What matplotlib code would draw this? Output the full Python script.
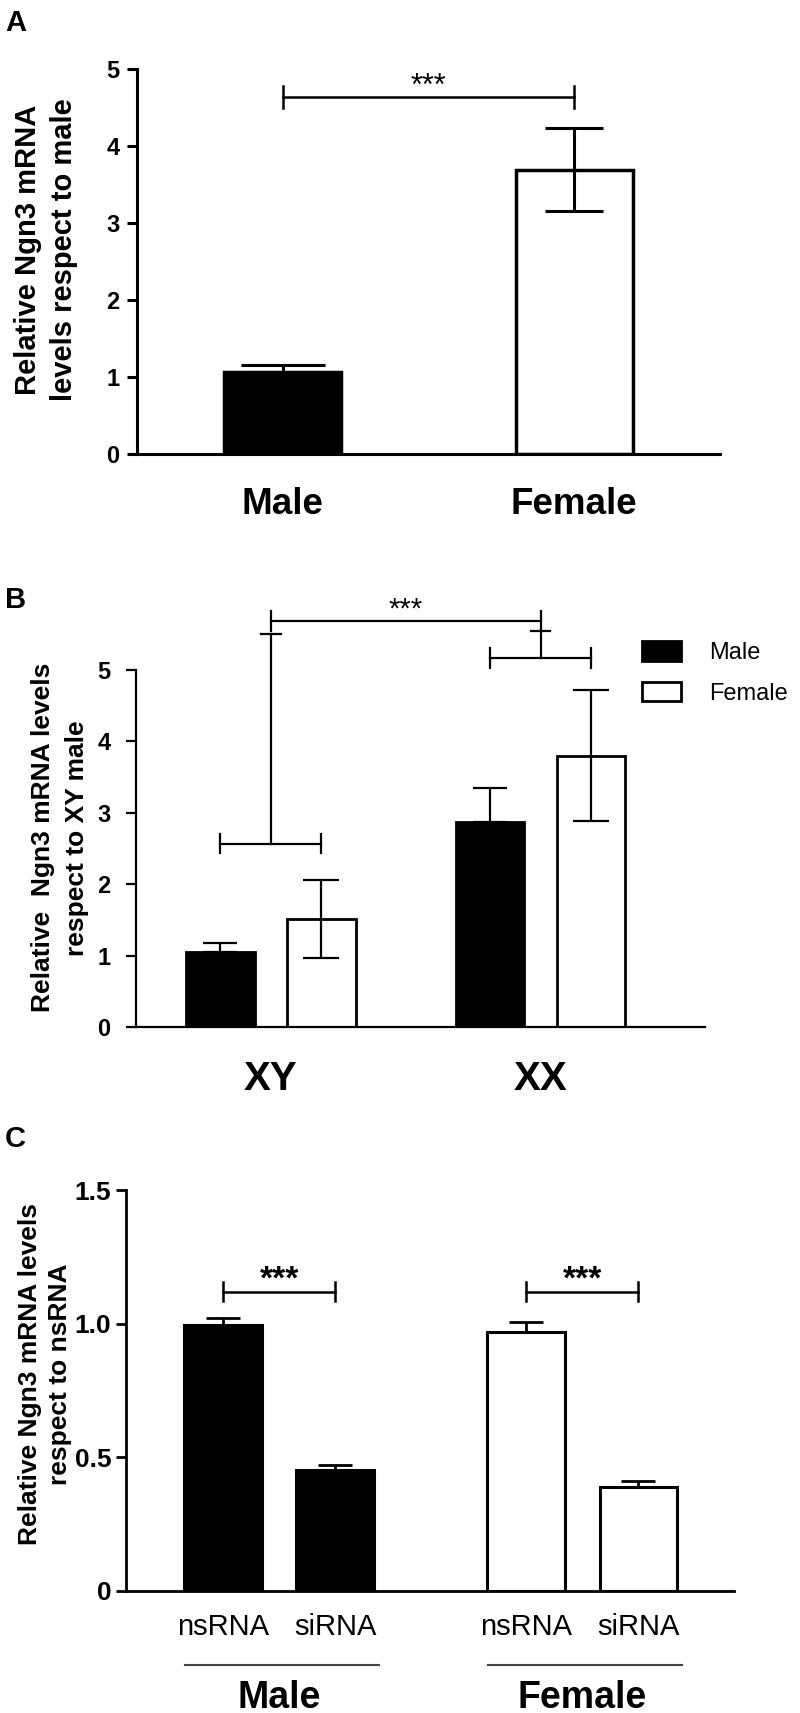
import matplotlib
matplotlib.use('Agg')
import matplotlib.pyplot as plt
from matplotlib.transforms import blended_transform_factory
import numpy as np

plt.rcParams['font.family'] = ['Liberation Sans', 'DejaVu Sans']

# panel A - Ngn3 by sex
a_groups = ['Male', 'Female']
a_means = [1.07, 3.69]
a_sem = [0.09, 0.54]
a_sig_y = 4.64

# panel B - four core genotypes
b_groups = ['XY', 'XX']
b_male = [1.05, 2.87]
b_male_sem = [0.13, 0.48]
b_female = [1.51, 3.80]
b_female_sem = [0.55, 0.92]
b_pair_y = [2.57, 5.17]
b_pair_top = [5.51, 5.54]
b_sig_y = 5.68

# panel C - siRNA knockdown
c_groups = ['Male', 'Female']
c_conditions = ['nsRNA', 'siRNA']
c_male = [0.995, 0.453]
c_male_sem = [0.025, 0.017]
c_female = [0.97, 0.39]
c_female_sem = [0.035, 0.02]
c_sig_y = [1.12, 1.12]

W, H = 800, 1713
fig = plt.figure(figsize=(W / 100, H / 100), dpi=100)


def px_axes(left, top, right, bottom):
    return fig.add_axes([left / W, 1 - bottom / H, (right - left) / W, (bottom - top) / H])


def style(ax, lw, ticks, ticklabels, tsize, pad):
    for s in ['top', 'right']:
        ax.spines[s].set_visible(False)
    for s in ['left', 'bottom']:
        ax.spines[s].set_linewidth(lw)
    ax.set_yticks(ticks, labels=ticklabels, fontsize=tsize, fontweight='bold')
    ax.tick_params(axis='y', direction='out', length=7.5, width=lw, pad=pad)
    ax.tick_params(axis='x', length=0)


def ylabel(ax, txt, x, y, size, spacing):
    ax.text(x, y, txt, transform=ax.transAxes, rotation=90, ha='center', va='center',
            multialignment='center', fontsize=size, fontweight='bold', linespacing=spacing)


def bracket(ax, x0, x1, y, h, lw):
    ax.plot([x0, x1], [y, y], color='black', lw=lw, clip_on=False)
    ax.plot([x0, x0], [y - h, y + h], color='black', lw=lw, clip_on=False)
    ax.plot([x1, x1], [y - h, y + h], color='black', lw=lw, clip_on=False)


# ---------------- A ----------------
axA = px_axes(137, 69, 720, 454)
xa = np.arange(len(a_groups))
axA.bar(xa, a_means, width=0.40, color=['black', 'white'], edgecolor='black', linewidth=2.5, zorder=2)
axA.errorbar(xa[0], a_means[0], yerr=[[0], [a_sem[0]]], fmt='none', ecolor='black',
             elinewidth=2.2, capsize=30, capthick=2.2, zorder=3)
axA.errorbar(xa[1], a_means[1], yerr=a_sem[1], fmt='none', ecolor='black',
             elinewidth=2.2, capsize=21, capthick=2.2, zorder=3)
axA.set_xlim(-0.5, 1.5)
axA.set_ylim(0, 5)
style(axA, 2.2, [0, 1, 2, 3, 4, 5], ['0', '1', '2', '3', '4', '5'], 17, 5)
axA.set_xticks(xa, labels=a_groups, fontsize=26.5, fontweight='bold')
axA.tick_params(axis='x', pad=24)
bracket(axA, xa[0], xa[1], a_sig_y, 0.14, 1.8)
axA.text(0.5 * (xa[0] + xa[1]), a_sig_y + 0.02, '***', ha='center', va='baseline', fontsize=22)
ylabel(axA, 'Relative Ngn3 mRNA\nlevels respect to male', -0.156, 0.53, 21, 1.35)

# ---------------- B ----------------
axB = px_axes(136, 670, 705, 1027)
xb = np.arange(len(b_groups))
off = 0.1875
bw = 0.255
axB.bar(xb - off, b_male, width=bw, color='black', edgecolor='black', linewidth=2, zorder=2, label='Male')
axB.bar(xb + off, b_female, width=bw, color='white', edgecolor='black', linewidth=2, zorder=2, label='Female')
axB.errorbar(xb - off, b_male, yerr=[np.zeros(2), b_male_sem], fmt='none', ecolor='black',
             elinewidth=1.6, capsize=12, capthick=1.6, zorder=3)
axB.errorbar(xb + off, b_female, yerr=b_female_sem, fmt='none', ecolor='black',
             elinewidth=1.6, capsize=13, capthick=1.6, zorder=3)
axB.set_xlim(-0.5, 1.61)
axB.set_ylim(0, 5)
style(axB, 1.6, [0, 1, 2, 3, 4, 5], ['0', '1', '2', '3', '4', '5'], 17, 11)
axB.set_xticks(xb, labels=b_groups, fontsize=29, fontweight='bold')
axB.tick_params(axis='x', pad=24)
for i in range(len(b_groups)):
    bracket(axB, xb[i] - off, xb[i] + off, b_pair_y[i], 0.14, 1.6)
    axB.plot([xb[i], xb[i]], [b_pair_y[i], b_pair_top[i]], color='black', lw=1.6, clip_on=False)
    axB.plot([xb[i] - 0.037, xb[i] + 0.037], [b_pair_top[i]] * 2, color='black', lw=1.6, clip_on=False)
bracket(axB, xb[0], xb[1], b_sig_y, 0.14, 1.6)
axB.text(0.5 * (xb[0] + xb[1]), b_sig_y + 0.05, '***', ha='center', va='baseline', fontsize=21)
ylabel(axB, 'Relative  Ngn3 mRNA levels\nrespect to XY male', -0.134, 0.53, 19, 1.5)
axB.legend(loc='upper left', bbox_to_anchor=(642 / W, 1 - 641 / H), bbox_transform=fig.transFigure,
           frameon=False, fontsize=17, handlelength=1.65, handleheight=0.9, handletextpad=1.2,
           labelspacing=0.75, borderpad=0, borderaxespad=0)

# ---------------- C ----------------
axC = px_axes(126, 1190, 734, 1591)
xc = np.arange(len(c_groups))
offc = 0.185
bwc = 0.257
axC.bar([xc[0] - offc, xc[0] + offc], c_male, width=bwc, color='black', edgecolor='black', linewidth=2.2, zorder=2)
axC.bar([xc[1] - offc, xc[1] + offc], c_female, width=bwc, color='white', edgecolor='black', linewidth=2.2, zorder=2)
axC.errorbar([xc[0] - offc, xc[0] + offc], c_male, yerr=[np.zeros(2), c_male_sem], fmt='none',
             ecolor='black', elinewidth=2, capsize=12, capthick=2, zorder=3)
axC.errorbar([xc[1] - offc, xc[1] + offc], c_female, yerr=[np.zeros(2), c_female_sem], fmt='none',
             ecolor='black', elinewidth=2, capsize=12, capthick=2, zorder=3)
axC.set_xlim(-0.505, 1.5)
axC.set_ylim(0, 1.5)
style(axC, 2, [0, 0.5, 1.0, 1.5], ['0', '0.5', '1.0', '1.5'], 19, 3)
pos = [g + d for g in xc for d in (-offc, offc)]
axC.set_xticks(pos, labels=c_conditions * len(c_groups), fontsize=21)
axC.tick_params(axis='x', pad=16)
for i in range(len(c_groups)):
    bracket(axC, xc[i] - offc, xc[i] + offc, c_sig_y[i], 0.035, 1.8)
    axC.text(xc[i], c_sig_y[i] + 0.01, '***', ha='center', va='baseline', fontsize=24, fontweight='bold')
ylabel(axC, 'Relative Ngn3 mRNA levels\nrespect to nsRNA', -0.133, 0.54, 19, 1.3)

tr = blended_transform_factory(axC.transData, fig.transFigure)
for i, g in enumerate(c_groups):
    axC.plot([xc[i] - 0.31, xc[i] + 0.33], [1 - 1665 / H] * 2, color='#444444', lw=1.5,
             transform=tr, clip_on=False)
    axC.text(xc[i], 1 - 1708 / H, g, transform=tr, ha='center', va='baseline',
             fontsize=27, fontweight='bold')

# panel letters
for letter, top in [('A', 9), ('B', 586), ('C', 1125)]:
    fig.text(5 / W, 1 - top / H, letter, ha='left', va='top', fontsize=21, fontweight='bold')

fig.savefig('out.png', dpi=100)
